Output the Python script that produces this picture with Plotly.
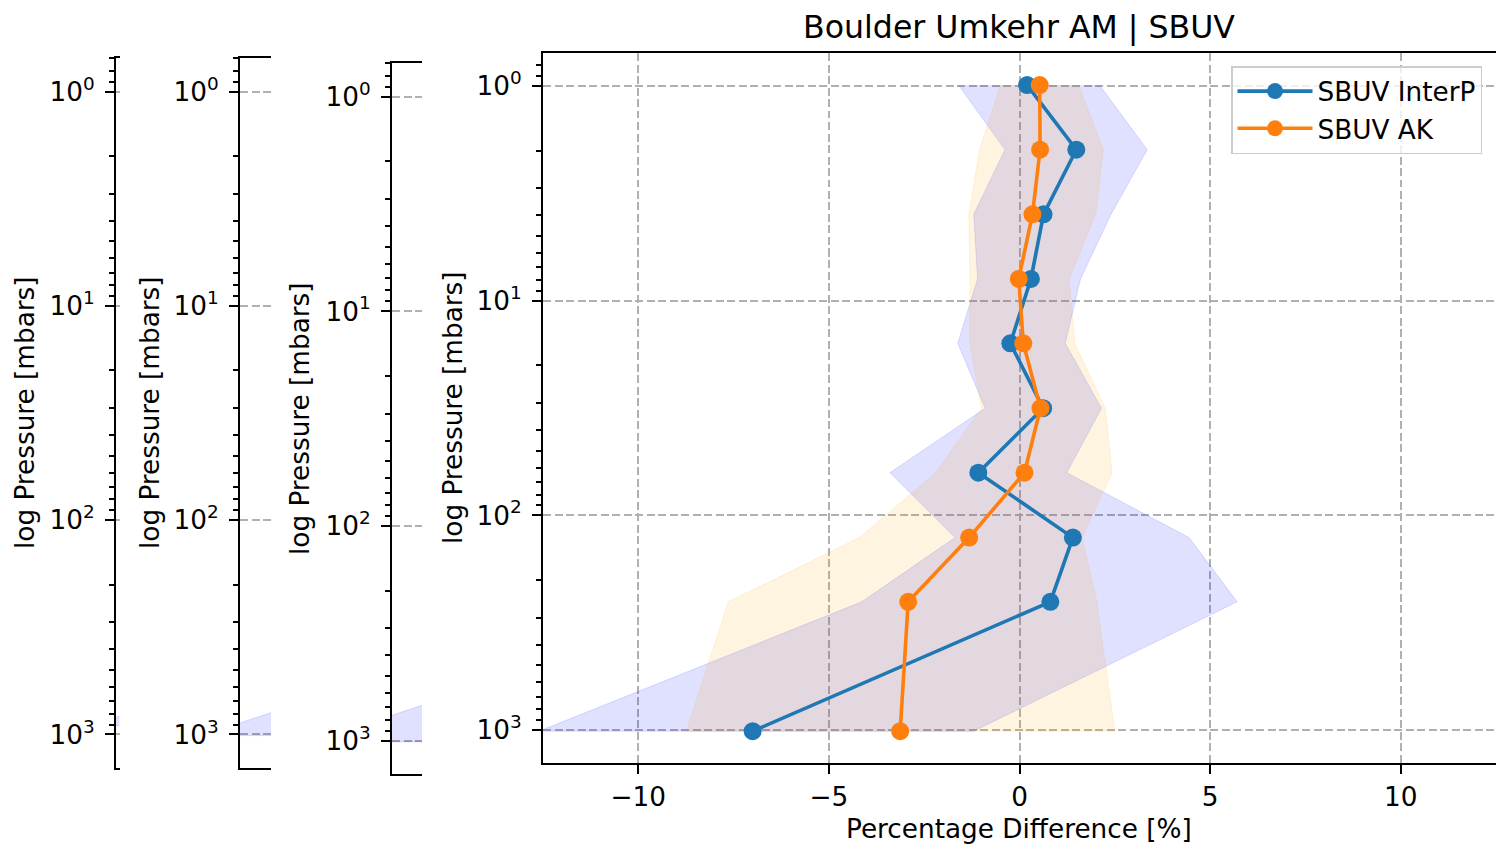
import plotly.graph_objects as go

# Umkehr layer pressures [hPa]
pressure = [0.99, 1.98, 3.96, 7.92, 15.8, 31.7, 63.3, 127, 253, 1013]

# SBUV InterP: mean difference and spread bounds [%]
interp_mean = [0.2, 1.49, 0.63, 0.3, -0.24, 0.62, -1.08, 1.4, 0.81, -7.0]
interp_lo = [-1.6, -0.38, -1.2, -1.1, -1.62, -0.9, -3.4, -1.69, -4.14, -12.6]
interp_hi = [2.1, 3.35, 2.4, 1.6, 1.2, 2.15, 1.24, 4.45, 5.71, -1.2]

# SBUV AK: mean difference and spread bounds [%]
ak_mean = [0.53, 0.54, 0.34, -0.02, 0.1, 0.55, 0.13, -1.32, -2.92, -3.13]
ak_lo = [-0.5, -1.05, -1.33, -1.3, -1.3, -1.0, -2.2, -4.2, -7.64, -8.74]
ak_hi = [1.55, 2.2, 2.0, 1.3, 1.45, 2.25, 2.43, 1.64, 2.03, 2.5]

# lower-troposphere spread of the three narrow side panels
side_p = [253, 1013]
side1_lo = [-3.5, -14.0]
side2_lo = [-3.3, -13.5]
side3_lo = [-4.4, -14.6]
side_hi = [6.0, 2.0]

y_tickvals = [1, 10, 100, 1000]
y_ticktext = ["10<sup>0</sup>", "10<sup>1</sup>", "10<sup>2</sup>", "10<sup>3</sup>"]
x_tickvals = [-10, -5, 0, 5, 10]
x_ticktext = ["\u221210", "\u22125", "0", "5", "10"]
minor_vals = [0.7, 0.8, 0.9] + [m * d for d in (1, 10, 100) for m in range(2, 10)]

W, H = 1502, 847
FONT = "DejaVu Sans"
FS = 26.3
BLUE = "#1f77b4"
ORANGE = "#ff7f0e"
BAND_BLUE = "rgba(0,0,255,0.12)"
BAND_ORANGE = "rgba(255,165,0,0.12)"
GRID = dict(showgrid=True, gridcolor="#b0b0b0", gridwidth=1.6, griddash="8px,3.5px")


def px_x(a, b):
    return [a / W, b / W]


def px_y(top, bottom):
    return [1 - bottom / H, 1 - top / H]


fig = go.Figure()


def band(lo, hi, p, color, xa, ya):
    fig.add_trace(go.Scatter(
        x=list(lo) + list(hi)[::-1], y=list(p) + list(p)[::-1],
        mode="lines", fill="toself", fillcolor=color,
        line=dict(color=color, width=1), hoverinfo="skip",
        showlegend=False, xaxis=xa, yaxis=ya))


# side panels (mostly hidden)
band(side1_lo, side_hi, side_p, BAND_BLUE, "x2", "y2")
band(side2_lo, side_hi, side_p, BAND_BLUE, "x3", "y3")
band(side3_lo, side_hi, side_p, BAND_BLUE, "x4", "y4")

# main panel
band(interp_lo, interp_hi, pressure, BAND_BLUE, "x", "y")
band(ak_lo, ak_hi, pressure, BAND_ORANGE, "x", "y")

fig.add_trace(go.Scatter(
    x=interp_mean, y=pressure, mode="lines+markers", name="SBUV InterP",
    line=dict(color=BLUE, width=3.6), marker=dict(color=BLUE, size=18),
    legendgroup="a", xaxis="x", yaxis="y"))
fig.add_trace(go.Scatter(
    x=ak_mean, y=pressure, mode="lines+markers", name="SBUV AK",
    line=dict(color=ORANGE, width=3.6), marker=dict(color=ORANGE, size=18),
    legendgroup="b", xaxis="x", yaxis="y"))

frame = dict(showline=True, linecolor="black", linewidth=2, zeroline=False)
tickstyle = dict(ticks="outside", ticklen=9, tickwidth=2, tickcolor="black",
                 tickfont=dict(family=FONT, size=FS, color="black"))
minor = dict(ticks="outside", ticklen=5, tickwidth=1.5, tickcolor="black",
             tickvals=minor_vals, showgrid=False)


def log_yaxis(dom, rng, anchor, grid=True):
    d = dict(domain=dom, type="log", range=rng, anchor=anchor,
             tickmode="array", tickvals=y_tickvals, ticktext=y_ticktext,
             minor=minor, ticklabelstandoff=5, mirror=False, **frame, **tickstyle)
    if grid:
        d.update(GRID)
    else:
        d["showgrid"] = False
    return d


def side_xaxis(dom, rng, anchor):
    return dict(domain=dom, range=rng, anchor=anchor, mirror=True,
                showticklabels=False, ticks="", showgrid=False, **frame)


layout = dict(
    width=W, height=H, autosize=False,
    margin=dict(l=0, r=0, t=0, b=0),
    paper_bgcolor="white", plot_bgcolor="white",
    font=dict(family=FONT, size=FS, color="black"),
    title=dict(text="Boulder Umkehr AM | SBUV", x=1019 / W, xanchor="center",
               xref="paper", y=1 - 27 / H, yanchor="middle",
               font=dict(family=FONT, size=31.6, color="black")),
    xaxis=dict(domain=px_x(543, 1496), range=[-12.5, 12.5], anchor="y",
               tickmode="array", tickvals=x_tickvals, ticktext=x_ticktext,
               mirror=True, **frame, **tickstyle, **GRID),
    yaxis=log_yaxis(px_y(53, 763), [3.154, -0.154], "x"),
    xaxis2=side_xaxis(px_x(116, 119.5), [-12.5, -12.41], "y2"),
    yaxis2=log_yaxis(px_y(58, 768), [3.157, -0.157], "x2"),
    xaxis3=side_xaxis(px_x(240, 271), [-12.5, -11.686], "y3"),
    yaxis3=log_yaxis(px_y(58, 768), [3.157, -0.157], "x3"),
    xaxis4=side_xaxis(px_x(392, 422), [-12.5, -11.712], "y4"),
    yaxis4=log_yaxis(px_y(63.3, 774), [3.155, -0.155], "x4"),
    legend=dict(x=1482 / W, y=1 - 66 / H, xanchor="right", yanchor="top",
                bgcolor="rgba(255,255,255,0.8)", bordercolor="#cccccc",
                borderwidth=1.5, font=dict(family=FONT, size=FS, color="black"),
                itemwidth=75, traceorder="grouped", tracegroupgap=0),
    showlegend=True,
)

ylabel = "log Pressure [mbars]"
annotations = [
    dict(text=ylabel, x=25 / W, y=1 - 413 / H, textangle=-90),
    dict(text=ylabel, x=150 / W, y=1 - 413 / H, textangle=-90),
    dict(text=ylabel, x=300 / W, y=1 - 419 / H, textangle=-90),
    dict(text=ylabel, x=453 / W, y=1 - 408 / H, textangle=-90),
    dict(text="Percentage Difference [%]", x=1019 / W, y=1 - 829 / H, textangle=0),
]
for a in annotations:
    a.update(xref="paper", yref="paper", xanchor="center", yanchor="middle",
             showarrow=False, font=dict(family=FONT, size=FS, color="black"))
layout["annotations"] = annotations

fig.update_layout(**layout)
fig.write_html("out.html")
